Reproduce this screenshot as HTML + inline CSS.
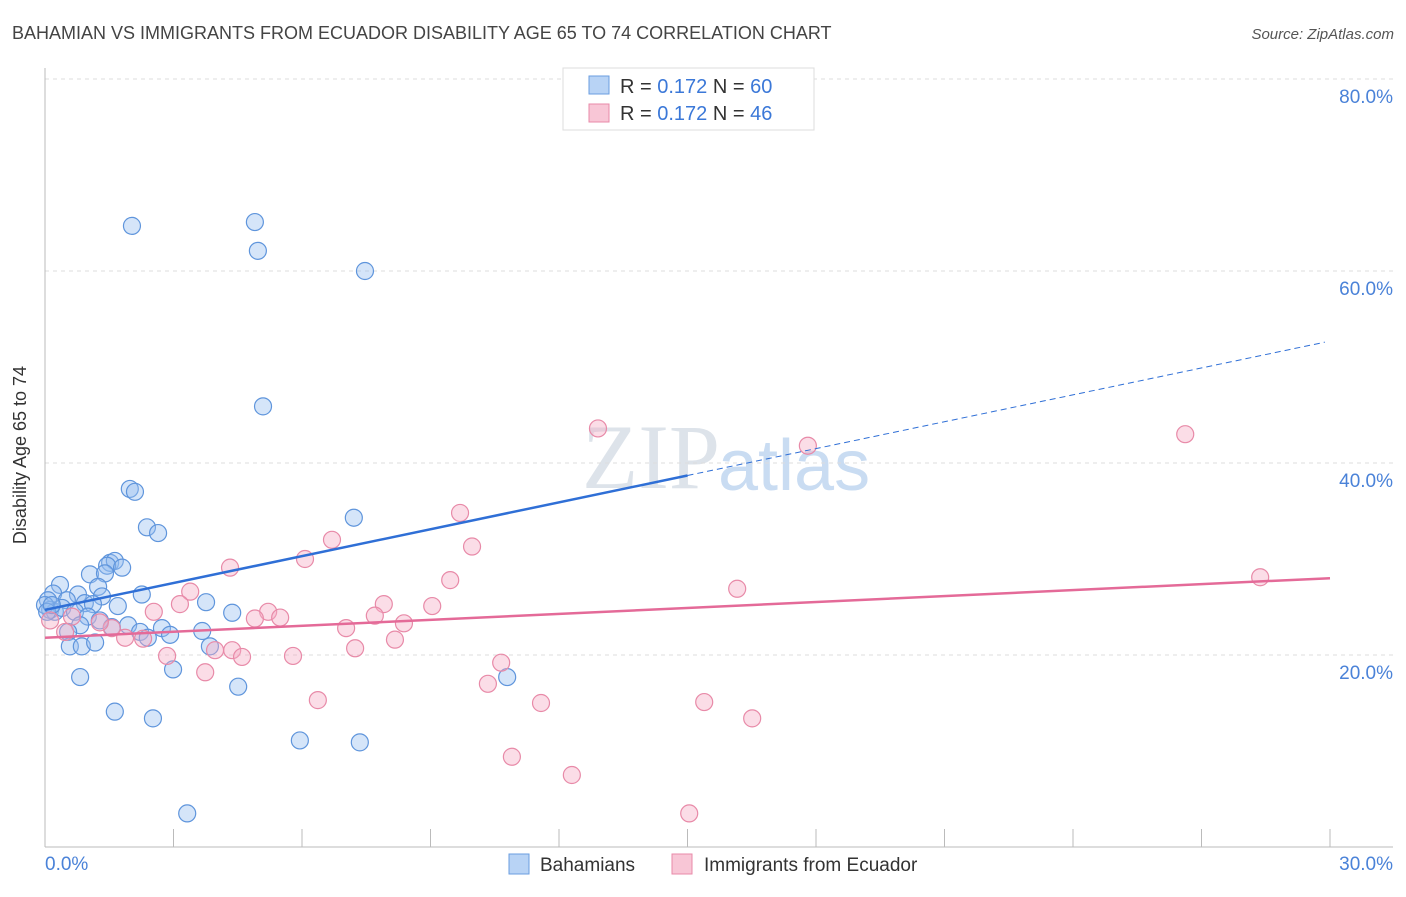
<!DOCTYPE html>
<html><head><meta charset="utf-8"><style>
body{margin:0;background:#fff;font-family:"Liberation Sans",sans-serif}
</style></head><body>
<svg width="1406" height="892" xmlns="http://www.w3.org/2000/svg" font-family="Liberation Sans, sans-serif">
<text x="12" y="39" font-size="18" fill="#444">BAHAMIAN VS IMMIGRANTS FROM ECUADOR DISABILITY AGE 65 TO 74 CORRELATION CHART</text>
<text x="1394" y="39" font-size="15" fill="#555" font-style="italic" text-anchor="end">Source: ZipAtlas.com</text>
<text x="720" y="488" font-size="92" fill="#dde3ea" text-anchor="end" font-family="Liberation Serif, serif">ZIP</text>
<text x="718" y="490" font-size="72" fill="#c9dcf2">atlas</text>
<g id="grid"></g><g id="axes"></g>
<g id="pts"></g><g id="lines"></g>
<text x="26" y="455" font-size="18" fill="#333" transform="rotate(-90 26 455)" text-anchor="middle">Disability Age 65 to 74</text>
<g>
<rect x="563" y="68" width="251" height="62" fill="#fff" stroke="#ddd"/>
<rect x="589" y="76" width="20" height="18" fill="#b8d3f5" stroke="#6a9ee0"/>
<rect x="589" y="104" width="20" height="18" fill="#f8c6d6" stroke="#e88aa8"/>
<text x="620" y="93" font-size="20" fill="#333">R = <tspan fill="#3b78d8">0.172</tspan>   N = <tspan fill="#3b78d8">60</tspan></text>
<text x="620" y="120" font-size="20" fill="#333">R = <tspan fill="#3b78d8">0.172</tspan>   N = <tspan fill="#3b78d8">46</tspan></text>
</g>
<g>
<rect x="509" y="854" width="20" height="20" fill="#b8d3f5" stroke="#6a9ee0"/>
<text x="540" y="871" font-size="19" fill="#333">Bahamians</text>
<rect x="672" y="854" width="20" height="20" fill="#f8c6d6" stroke="#e88aa8"/>
<text x="704" y="871" font-size="19" fill="#333">Immigrants from Ecuador</text>
</g>
</svg>
<script>
const xTicks=[0,3,6,9,12,15,18,21,24,27,30];
const yTicks=[20,40,60,80];
const yTickLabels=["20.0%","40.0%","60.0%","80.0%"];
const blueX=[2.03,4.90,4.97,7.47,5.09,1.98,2.10,2.38,2.64,7.21,1.52,1.63,1.45,1.80,1.05,1.40,0.35,1.24,0.19,0.77,1.33,2.26,0.51,0.93,1.12,1.70,3.76,0.07,0.12,0.23,0.40,0.70,1.00,1.28,1.94,1.56,2.73,2.22,2.92,3.67,4.37,0.82,0.54,0.58,0.86,1.17,2.40,3.85,0.82,2.99,4.51,1.63,2.52,5.95,7.35,3.32,10.79,0.0,0.05,0.16];
const blueY=[64.7,65.1,62.1,60.0,45.9,37.3,37.0,33.3,32.7,34.3,29.6,29.8,29.3,29.1,28.4,28.5,27.3,27.1,26.4,26.3,26.1,26.3,25.7,25.4,25.3,25.1,25.5,25.7,24.7,24.5,24.9,24.5,24.0,23.6,23.1,22.9,22.8,22.4,22.1,22.5,24.4,23.1,22.4,20.9,20.9,21.3,21.8,20.9,17.7,18.5,16.7,14.1,13.4,11.1,10.9,3.5,17.7,25.2,24.5,25.2];
const pinkX=[12.91,17.81,26.62,9.69,9.97,6.70,6.07,4.32,3.39,28.37,16.16,9.46,3.15,2.54,5.21,4.90,5.49,7.91,9.04,7.70,8.38,7.03,4.37,3.97,2.85,4.60,5.79,7.24,8.17,3.74,10.65,10.34,6.37,11.58,15.39,16.51,10.90,12.30,15.04,1.87,2.29,1.56,1.28,0.47,0.12,0.63];
const pinkY=[43.6,41.8,43.0,34.8,31.3,32.0,30.0,29.1,26.6,28.1,26.9,27.8,25.3,24.5,24.5,23.8,23.9,25.3,25.1,24.1,23.3,22.8,20.5,20.5,19.9,19.8,19.9,20.7,21.6,18.2,19.2,17.0,15.3,15.0,15.1,13.4,9.4,7.5,3.5,21.8,21.7,22.8,23.4,22.4,23.6,24.0];
const blueTrend=[24.7,0.9333];
const pinkTrend=[21.8,0.2067];
const X=v=>45+v*1285/30, Y=v=>847-v*9.6;
const NS="http://www.w3.org/2000/svg";
function mk(t,a,p){const e=document.createElementNS(NS,t);for(const k in a)e.setAttribute(k,a[k]);document.getElementById(p).appendChild(e);return e;}
yTicks.forEach((t,i)=>{
 const g=mk('line',{x1:45,x2:1393,y1:Y(t),y2:Y(t),stroke:'#ddd','stroke-dasharray':'4,4'},'grid');
 
 
 const l=mk('text',{x:1393,y:Y(t)+24,'font-size':19,fill:'#4a82d8','text-anchor':'end'},'grid');l.textContent=yTickLabels[i];
 
 
});
mk('line',{x1:45,x2:45,y1:68,y2:847,stroke:'#bbb'},'axes');
mk('line',{x1:45,x2:1393,y1:847,y2:847,stroke:'#bbb'},'axes');
xTicks.forEach(t=>{const e=mk('line',{x1:X(t),x2:X(t),y1:829,y2:847,stroke:'#bbb'},'axes');
 
 });
let a=mk('text',{x:45,y:870,'font-size':19,fill:'#4a82d8'},'axes');a.textContent='0.0%';


a=mk('text',{x:1393,y:870,'font-size':19,fill:'#4a82d8','text-anchor':'end'},'axes');a.textContent='30.0%';


blueX.forEach((x,i)=>{const c=mk('circle',{cx:X(x),cy:Y(blueY[i]),r:8.5,fill:'rgba(150,190,240,0.4)',stroke:'#5f95dc','stroke-width':1.2},'pts');
 
 });
pinkX.forEach((x,i)=>{const c=mk('circle',{cx:X(x),cy:Y(pinkY[i]),r:8.5,fill:'rgba(245,170,195,0.4)',stroke:'#e88aa8','stroke-width':1.2},'pts');
 
 });
const bt=x=>blueTrend[0]+blueTrend[1]*x, pt=x=>pinkTrend[0]+pinkTrend[1]*x;
let l=mk('line',{x1:X(0),y1:Y(bt(0)),x2:X(15),y2:Y(bt(15)),stroke:'#2f6fd6','stroke-width':2.5},'lines');


l=mk('line',{x1:X(15),y1:Y(bt(15)),x2:X(29.88),y2:Y(bt(29.88)),stroke:'#2f6fd6','stroke-width':1,'stroke-dasharray':'6,4'},'lines');


l=mk('line',{x1:X(0),y1:Y(pt(0)),x2:X(30),y2:Y(pt(30)),stroke:'#e46a98','stroke-width':2.5},'lines');


</script>
</body></html>
